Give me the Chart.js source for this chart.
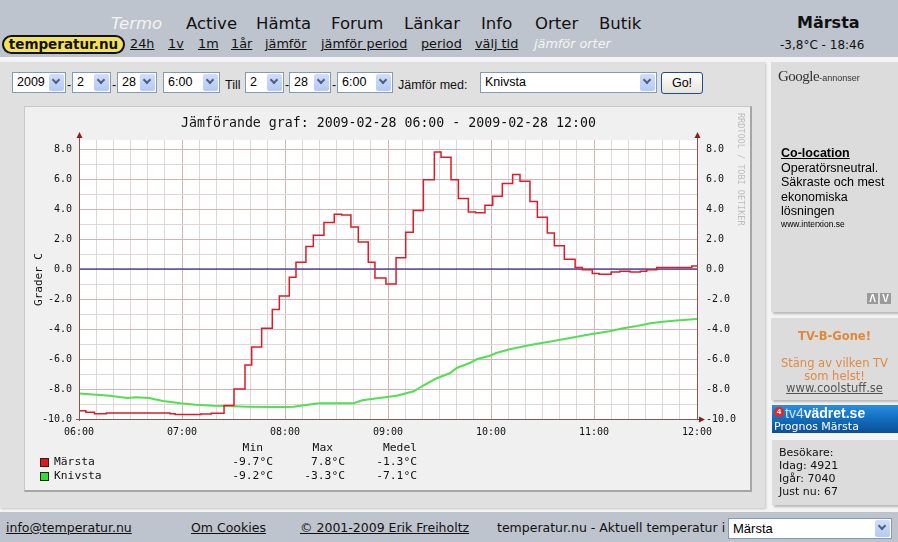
<!DOCTYPE html>
<html><head><meta charset="utf-8">
<script src="https://cdn.jsdelivr.net/npm/chart.js@4/dist/chart.umd.min.js"></script>
<style>
html,body{margin:0;padding:0;width:898px;height:542px;overflow:hidden;background:#f4f4f4;font-family:"DejaVu Sans",Verdana,sans-serif;}
.a{position:absolute;white-space:nowrap;line-height:1;}
#header{position:absolute;left:0;top:0;width:898px;height:57px;background:#bec4cd;}
#footer{position:absolute;left:0;top:512px;width:898px;height:30px;background:#bec4cd;}
.nav{font-size:16.5px;color:#111;top:16px;}
.lnk{font-size:12.8px;color:#111;top:38px;text-decoration:underline;}
.sel{position:absolute;height:21px;background:#fff;border:1px solid #7f9db9;box-sizing:border-box;font:12.5px "Liberation Sans",Arial,sans-serif;line-height:19px;padding-left:4px;color:#000;}
.sel i{position:absolute;right:1px;top:1px;width:15px;height:17px;background:linear-gradient(#d2def9,#b5c9f3);border-radius:2px;}
.sel i:after{content:'';position:absolute;left:4px;top:3px;width:4px;height:4px;border-right:2px solid #4d6185;border-bottom:2px solid #4d6185;transform:rotate(45deg);}
.ftxt{font:12.5px "Liberation Sans",Arial,sans-serif;color:#111;top:78px;}
.side{position:absolute;background:#dcdcdc;box-shadow:2px 2px 2px #b8b8b8;}
.mono{font-family:"DejaVu Sans Mono",monospace;}
.foot{font-size:12.5px;color:#111;top:522px;}
</style></head>
<body>
<div id="header"></div>
<div class="a nav" style="left:111px;color:#f4f4f4;font-style:italic;">Termo</div>
<div class="a nav" style="left:186px;">Active</div>
<div class="a nav" style="left:256px;">Hämta</div>
<div class="a nav" style="left:331px;">Forum</div>
<div class="a nav" style="left:404px;">Länkar</div>
<div class="a nav" style="left:481px;">Info</div>
<div class="a nav" style="left:535px;">Orter</div>
<div class="a nav" style="left:599px;">Butik</div>
<div class="a" style="left:2px;top:35px;width:123px;height:19px;box-sizing:border-box;border:2px solid #111;border-radius:10px;background:#f3e259;font-weight:bold;font-size:13.5px;line-height:15px;text-align:center;color:#111;">temperatur.nu</div>
<div class="a lnk" style="left:130px;">24h</div>
<div class="a lnk" style="left:168px;">1v</div>
<div class="a lnk" style="left:198px;">1m</div>
<div class="a lnk" style="left:231px;">1år</div>
<div class="a lnk" style="left:265px;">jämför</div>
<div class="a lnk" style="left:321px;">jämför period</div>
<div class="a lnk" style="left:421px;">period</div>
<div class="a lnk" style="left:475px;">välj tid</div>
<div class="a lnk" style="left:534px;text-decoration:none;font-style:italic;color:#f4f4f4;">jämför orter</div>
<div class="a" style="left:797px;top:15px;font-size:16px;font-weight:bold;color:#111;">Märsta</div>
<div class="a" style="left:780px;top:39px;font-size:12px;color:#111;">-3,8°C - 18:46</div>

<div class="a" style="left:0;top:62px;width:765px;height:446px;background:#e0e0e0;box-shadow:1px 1px 2px #c4c4c4;"></div>

<div class="sel" style="left:12px;top:72px;width:54px;">2009<i></i></div>
<div class="a ftxt" style="left:67px;">-</div>
<div class="sel" style="left:72px;top:72px;width:39px;">2<i></i></div>
<div class="a ftxt" style="left:112px;">-</div>
<div class="sel" style="left:117px;top:72px;width:40px;">28<i></i></div>
<div class="sel" style="left:163px;top:72px;width:57px;">6:00<i></i></div>
<div class="a ftxt" style="left:225px;">Till</div>
<div class="sel" style="left:245px;top:72px;width:39px;">2<i></i></div>
<div class="a ftxt" style="left:285px;">-</div>
<div class="sel" style="left:289px;top:72px;width:42px;">28<i></i></div>
<div class="a ftxt" style="left:332px;">-</div>
<div class="sel" style="left:337px;top:72px;width:56px;">6:00<i></i></div>
<div class="a ftxt" style="left:398px;">Jämför med:</div>
<div class="sel" style="left:480px;top:72px;width:177px;">Knivsta<i></i></div>
<div class="a" style="left:661px;top:72px;width:42px;height:22px;box-sizing:border-box;border:1px solid #1c4f8a;border-radius:3px;background:linear-gradient(#ffffff,#e6e3d8);font:12.5px 'Liberation Sans',Arial,sans-serif;line-height:20px;text-align:center;color:#000;">Go!</div>

<div class="a" style="left:24px;top:106px;width:728px;height:386px;box-sizing:border-box;background:#f0f0f0;border-top:1px solid #c8c8c8;border-left:1px solid #c8c8c8;border-right:2px solid #a6a6a6;border-bottom:2px solid #a6a6a6;"></div>
<canvas id="c" width="724" height="382" style="position:absolute;left:26px;top:108px;"></canvas>
<div class="a mono" style="left:88px;top:116px;width:601px;text-align:center;font-size:13.25px;color:#111;">Jämförande graf: 2009-02-28 06:00 - 2009-02-28 12:00</div>
<div class="a mono" style="left:736px;top:113px;writing-mode:vertical-rl;font-size:8.5px;color:#bdbdbd;">RRDTOOL / TOBI OETIKER</div>
<div id="legend"></div>

<div class="side" style="left:771px;top:62px;width:127px;height:250px;"></div>
<div class="a" style="left:778px;top:68px;font:15px 'Liberation Serif',serif;color:#333;letter-spacing:-0.5px;">Google<span style="font:9px 'Liberation Sans',Arial,sans-serif;letter-spacing:0;">-annonser</span></div>
<div class="a" style="left:781px;top:146px;font:bold 12.5px 'Liberation Sans',Arial,sans-serif;color:#000;text-decoration:underline;">Co-location</div>
<div class="a" style="left:781px;top:161px;font:12.5px 'Liberation Sans',Arial,sans-serif;color:#000;line-height:14.4px;">Operatörsneutral.<br>Säkraste och mest<br>ekonomiska<br>lösningen</div>
<div class="a" style="left:781px;top:219px;font:8.5px 'Liberation Sans',Arial,sans-serif;color:#000;">www.interxion.se</div>
<div class="a" style="left:867px;top:293px;width:11px;height:11px;background:#9a9a9a;color:#fff;font:bold 10px 'Liberation Sans',Arial,sans-serif;line-height:11px;text-align:center;">Λ</div>
<div class="a" style="left:880px;top:293px;width:11px;height:11px;background:#9a9a9a;color:#fff;font:bold 10px 'Liberation Sans',Arial,sans-serif;line-height:11px;text-align:center;">V</div>

<div class="side" style="left:771px;top:318px;width:127px;height:82px;"></div>
<div class="a" style="left:771px;top:331px;width:127px;text-align:center;font-size:11.5px;font-weight:bold;color:#e0883a;">TV-B-Gone!</div>
<div class="a" style="left:771px;top:357px;width:127px;text-align:center;font-size:11.5px;color:#e08a42;line-height:13px;">Stäng av vilken TV<br>som helst!</div>
<div class="a" style="left:771px;top:383px;width:127px;text-align:center;font-size:11.5px;color:#555;text-decoration:underline;">www.coolstuff.se</div>

<div class="a" style="left:772px;top:405px;width:126px;height:28px;background:linear-gradient(#2a8ee0 0%,#1370c2 45%,#0a4f95 100%);"></div>
<div class="a" style="left:774px;top:407px;width:10px;height:10px;border-radius:50%;background:#e22;color:#fff;font:bold 8px 'Liberation Sans',Arial,sans-serif;line-height:10px;text-align:center;">4</div>
<div class="a" style="left:785px;top:405px;font:14px 'Liberation Sans',Arial,sans-serif;color:#cfe6ff;">tv4<b style="color:#fff;">vädret.se</b></div>
<div class="a" style="left:774px;top:421px;font-size:11px;color:#fff;">Prognos Märsta</div>

<div class="side" style="left:772px;top:440px;width:126px;height:65px;"></div>
<div class="a" style="left:779px;top:446px;font-size:11px;color:#111;line-height:13px;">Besökare:<br>Idag: 4921<br>Igår: 7040<br>Just nu: 67</div>

<div id="footer"></div>
<div class="a foot" style="left:6px;text-decoration:underline;">info@temperatur.nu</div>
<div class="a foot" style="left:191px;text-decoration:underline;">Om Cookies</div>
<div class="a foot" style="left:300px;text-decoration:underline;">© 2001-2009 Erik Freiholtz</div>
<div class="a foot" style="left:497px;">temperatur.nu - Aktuell temperatur i</div>
<div class="sel" style="left:728px;top:518px;width:164px;font-size:13px;">Märsta<i></i></div>

<script>
const xTickLabels = ['06:00','07:00','08:00','09:00','10:00','11:00','12:00'];
const yTickValues = [-10,-9,-8,-7,-6,-5,-4,-3,-2,-1,0,1,2,3,4,5,6,7,8];
// minutes after 06:00 and temperatures (°C); each value holds until the next time
const marstaMinutes = [0,4,9,16,53,56,71,77,84.5,90.3,96.7,100.6,106.4,112.6,116.7,122.5,126.4,132.2,136.5,142.7,148.7,153,158.4,162.7,168.5,172.4,178.8,184.7,190.3,194.7,200.6,207,210.9,216.7,221,226.8,231,236.5,241,246.6,252.6,256.9,262.7,267,272.8,276.9,282.7,289,293.2,299,303,310,315,321,327,330.7,336.5,357,360];
const marstaTemps = [-9.45,-9.55,-9.65,-9.6,-9.65,-9.7,-9.67,-9.62,-9.1,-8.0,-6.4,-5.2,-3.95,-2.7,-1.8,-0.55,0.45,1.5,2.25,3.1,3.65,3.6,2.8,1.8,0.45,-0.6,-1.0,0.75,2.45,3.9,5.95,7.8,7.45,5.95,4.7,3.8,3.75,4.25,4.85,5.7,6.3,5.85,4.5,3.45,2.4,1.55,0.65,0.1,-0.05,-0.3,-0.35,-0.2,-0.15,-0.2,-0.15,-0.05,0.1,0.2,0.2];
const knivstaMinutes = [0,6,18,28,33,41,44,49,59,68,78,90,98,113,121,125,130,140,146,160,165,175,185,195,200,208,216,220,228,232,239,243,251,255,266,274,286,298,309,317,325,333,340,348,360];
const knivstaTemps = [-8.3,-8.35,-8.45,-8.6,-8.55,-8.6,-8.68,-8.8,-8.95,-9.05,-9.12,-9.15,-9.18,-9.2,-9.2,-9.18,-9.1,-8.95,-8.95,-8.95,-8.75,-8.6,-8.45,-8.15,-7.8,-7.3,-6.95,-6.6,-6.25,-6.0,-5.8,-5.6,-5.35,-5.25,-5.0,-4.85,-4.6,-4.35,-4.15,-3.95,-3.8,-3.62,-3.52,-3.44,-3.33];
const zeroMinutes = [0,360];
const zeroTemps = [0,0];
const seriesNames = ['Märsta','Knivsta'];
const seriesColors = ['#e01818','#33dd33'];
const seriesMin = ['-9.7','-9.2'];
const seriesMax = ['7.8','-3.3'];
const seriesMean = ['-1.3','-7.1'];

// legend / statistics table
(function(){
  const L = document.getElementById('legend');
  let h = '';
  const fs = 'font-size:11.3px;color:#111;';
  const col = (txt, right, top) => `<div class="a mono" style="left:${right-80}px;width:80px;text-align:right;top:${top}px;${fs}">${txt}</div>`;
  h += col('Min',263,442) + col('Max',333,442) + col('Medel',417,442);
  seriesNames.forEach((n,i)=>{
    const top = 456 + i*14;
    h += `<div class="a" style="left:40px;top:${top+2}px;width:7px;height:7px;border:1px solid #222;background:${seriesColors[i]};"></div>`;
    h += `<div class="a mono" style="left:54px;top:${top}px;${fs}">${n}</div>`;
    h += col(seriesMin[i]+'°C',273,top) + col(seriesMax[i]+'°C',345,top) + col(seriesMean[i]+'°C',417,top);
  });
  L.innerHTML = h;
})();

const pts = (xs, ys) => xs.map((x,i)=>({x:x, y:ys[i]}));
const minorC = '#e0d6d6', majorC = '#d8b2b2';
const tickFont = {family:'DejaVu Sans Mono', size:10};

const plotBg = {id:'plotBg', beforeDraw(chart){
  const {ctx, chartArea:a} = chart; ctx.save(); ctx.fillStyle='#ffffff';
  ctx.fillRect(a.left, a.top, a.right-a.left, a.bottom-a.top); ctx.restore();
}};
const axisDeco = {id:'axisDeco', afterDraw(chart){
  const {ctx, chartArea:a} = chart; ctx.save();
  ctx.strokeStyle='#8a5454'; ctx.lineWidth=1; ctx.beginPath();
  const L=Math.round(a.left)+0.5, R=Math.round(a.right)+0.5, B=Math.round(a.bottom)+0.5;
  ctx.moveTo(L, a.bottom+2); ctx.lineTo(L, a.top-6);
  ctx.moveTo(R, a.bottom); ctx.lineTo(R, a.top-6);
  ctx.moveTo(a.left-3, B); ctx.lineTo(a.right+4, B);
  ctx.stroke();
  ctx.fillStyle='#8e1c1c';
  [L,R].forEach(x=>{ctx.beginPath();ctx.moveTo(x,a.top-8);ctx.lineTo(x-3,a.top-2);ctx.lineTo(x+3,a.top-2);ctx.closePath();ctx.fill();});
  ctx.beginPath();ctx.moveTo(a.right+8,B);ctx.lineTo(a.right+2,B-3);ctx.lineTo(a.right+2,B+3);ctx.closePath();ctx.fill();
  ctx.restore();
}};

const yTicksBuild = s => { s.ticks = yTickValues.map(v=>({value:v})); };
const yLabel = v => (v % 2 === 0) ? v.toFixed(1) : '';

new Chart(document.getElementById('c'), {
  type:'line',
  data:{datasets:[
    {label:seriesNames[0], data:pts(marstaMinutes, marstaTemps), borderColor:'#dc1c28', borderWidth:1.5, stepped:'before', pointRadius:0, order:0},
    {label:'noll', data:pts(zeroMinutes, zeroTemps), borderColor:'#000080', borderWidth:1, pointRadius:0, order:1},
    {label:seriesNames[1], data:pts(knivstaMinutes, knivstaTemps), borderColor:'#52e052', borderWidth:2, pointRadius:0, order:2}
  ]},
  options:{
    responsive:false, animation:false,
    layout:{padding:{top:32,left:0,right:0,bottom:0}},
    plugins:{legend:{display:false}, tooltip:{enabled:false}, title:{display:false}},
    scales:{
      x:{type:'linear', min:0, max:360,
        afterBuildTicks:s=>{ const t=[]; for(let m=0;m<=360;m+=10) t.push({value:m}); s.ticks=t; },
        afterFit:s=>{ s.height=71; },
        grid:{drawTicks:false, color:c=> (c.tick && c.tick.value % 60 === 0) ? majorC : minorC},
        border:{display:false},
        ticks:{autoSkip:false, maxRotation:0, padding:7, font:tickFont, color:'#111',
          callback:v=> (v % 60 === 0) ? xTickLabels[v/60] : ''}
      },
      y:{position:'left', min:-10, max:8.6,
        afterBuildTicks:yTicksBuild, afterFit:s=>{ s.width=53; },
        grid:{drawTicks:false, color:c=> (c.tick && c.tick.value % 2 === 0) ? majorC : minorC},
        border:{display:false},
        title:{display:true, text:'Grader C', font:{family:'DejaVu Sans Mono', size:11}, color:'#111', padding:{top:7,bottom:0}},
        ticks:{padding:7, font:tickFont, color:'#111', callback:yLabel}
      },
      y2:{position:'right', min:-10, max:8.6,
        afterBuildTicks:yTicksBuild, afterFit:s=>{ s.width=53; },
        grid:{display:false, drawTicks:false}, border:{display:false},
        ticks:{padding:9, font:tickFont, color:'#111', callback:yLabel}
      }
    }
  },
  plugins:[plotBg, axisDeco]
});
</script>
</body></html>
